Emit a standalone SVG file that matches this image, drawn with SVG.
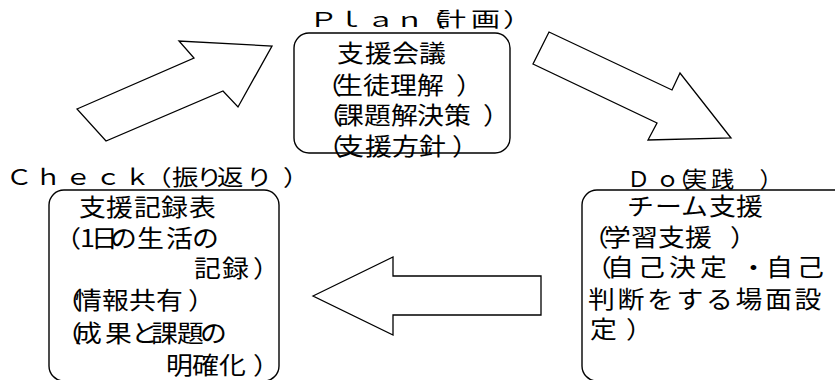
<svg xmlns="http://www.w3.org/2000/svg" width="835" height="380" viewBox="0 0 835 380">
<style>
.box{fill:#fff;stroke:#000;stroke-width:1.4}
.arr{fill:#fff;stroke:#000;stroke-width:1.3;stroke-linejoin:miter}
.t{font-family:"Noto Sans CJK JP","Noto Sans CJK SC",sans-serif;font-size:24px;fill:#000}
.h{font-family:"Noto Sans CJK JP","Noto Sans CJK SC",sans-serif;fill:#000}
</style>
<rect width="835" height="380" fill="#fff"/>
<g id="connectors">
<polygon class="arr" points="77,109 194,58 179,41 272,46 238,107 223,91 106,141"/>
<polygon class="arr" points="549,32 672,90 680,73 731,138 648,140 657,123 533,64"/>
<polygon class="arr" points="313,296 393,257 393,276 541,276 541,315 393,315 393,335"/>
</g>
<g id="node-plan">
<rect class="box" x="294" y="33" width="216" height="120" rx="15"/>
<text class="h" font-size="20" transform="matrix(1.45 0 0 1 0 0)" y="27" x="213.1 231 252.4 272.4 287.6 301.4 324.8 346.9">Ｐｌａｎ（計画）</text>
<text class="t" transform="matrix(1.12 0 0 1 0 0)"><tspan y="62" x="300.9 325.9 350 374.1">支援会議</tspan><tspan y="94" x="281.3 300 324.1 348.2 372.3 407.1">（生徒理解）</tspan><tspan y="124" x="282.2 300.9 325 349.1 372.3 396.4 431.3">（課題解決策）</tspan><tspan y="155" x="282.2 300.9 325.9 350 374.1 403.6">（支援方針）</tspan></text>
</g>
<g id="node-check">
<rect class="box" x="49" y="190" width="230" height="191" rx="15"/>
<text class="h" font-size="22" transform="matrix(1.2 0 0 1 0 0)" y="185" x="5 29.2 54.2 79.2 103.3 121 143.3 163.3 180.8 205 235.8">Ｃｈｅｃｋ（振り返り）</text>
<text class="t" transform="matrix(1.12 0 0 1 0 0)"><tspan y="216" x="70.5 94.6 119.6 143.8 168.8">支援記録表</tspan><tspan y="247" x="48.5 71.4 81.3 98.2 122.3 148.2 171.4">（1日の生活の</tspan><tspan y="277" x="173.2 198.2 225.9">記録）</tspan><tspan y="309" x="49.2 67 91.1 115.2 139.3 167.9">（情報共有）</tspan><tspan y="342" x="49.2 67 93.8 117 134.8 158 178.6">（成果と課題の</tspan><tspan y="374" x="148.2 171.4 195.5 225.9">明確化）</tspan></text>
</g>
<g id="node-do">
<rect class="box" x="582" y="190" width="280" height="191" rx="15"/>
<text class="h" font-size="22" transform="matrix(1.05 0 0 1 0 0)" y="187" x="597.1 624.8 635.2 651.4 677.1 723.3">Ｄｏ（実践）</text>
<text class="t" transform="matrix(1.12 0 0 1 0 0)"><tspan y="215" x="559.8 584.8 608 633 657.1">チーム支援</tspan><tspan y="246" x="519.5 539.3 563.4 587.5 611.6 651.8">（学習支援）</tspan><tspan y="276" x="522.3 542 569.6 597.3 625 660.7 683.9 711.6">（自己決定・自己</tspan><tspan y="308" x="525 551.3 577.7 604 630.4 656.7 683 709.4">判断をする場面設</tspan><tspan y="338" x="526.8 558.9">定）</tspan></text>
</g>
</svg>
